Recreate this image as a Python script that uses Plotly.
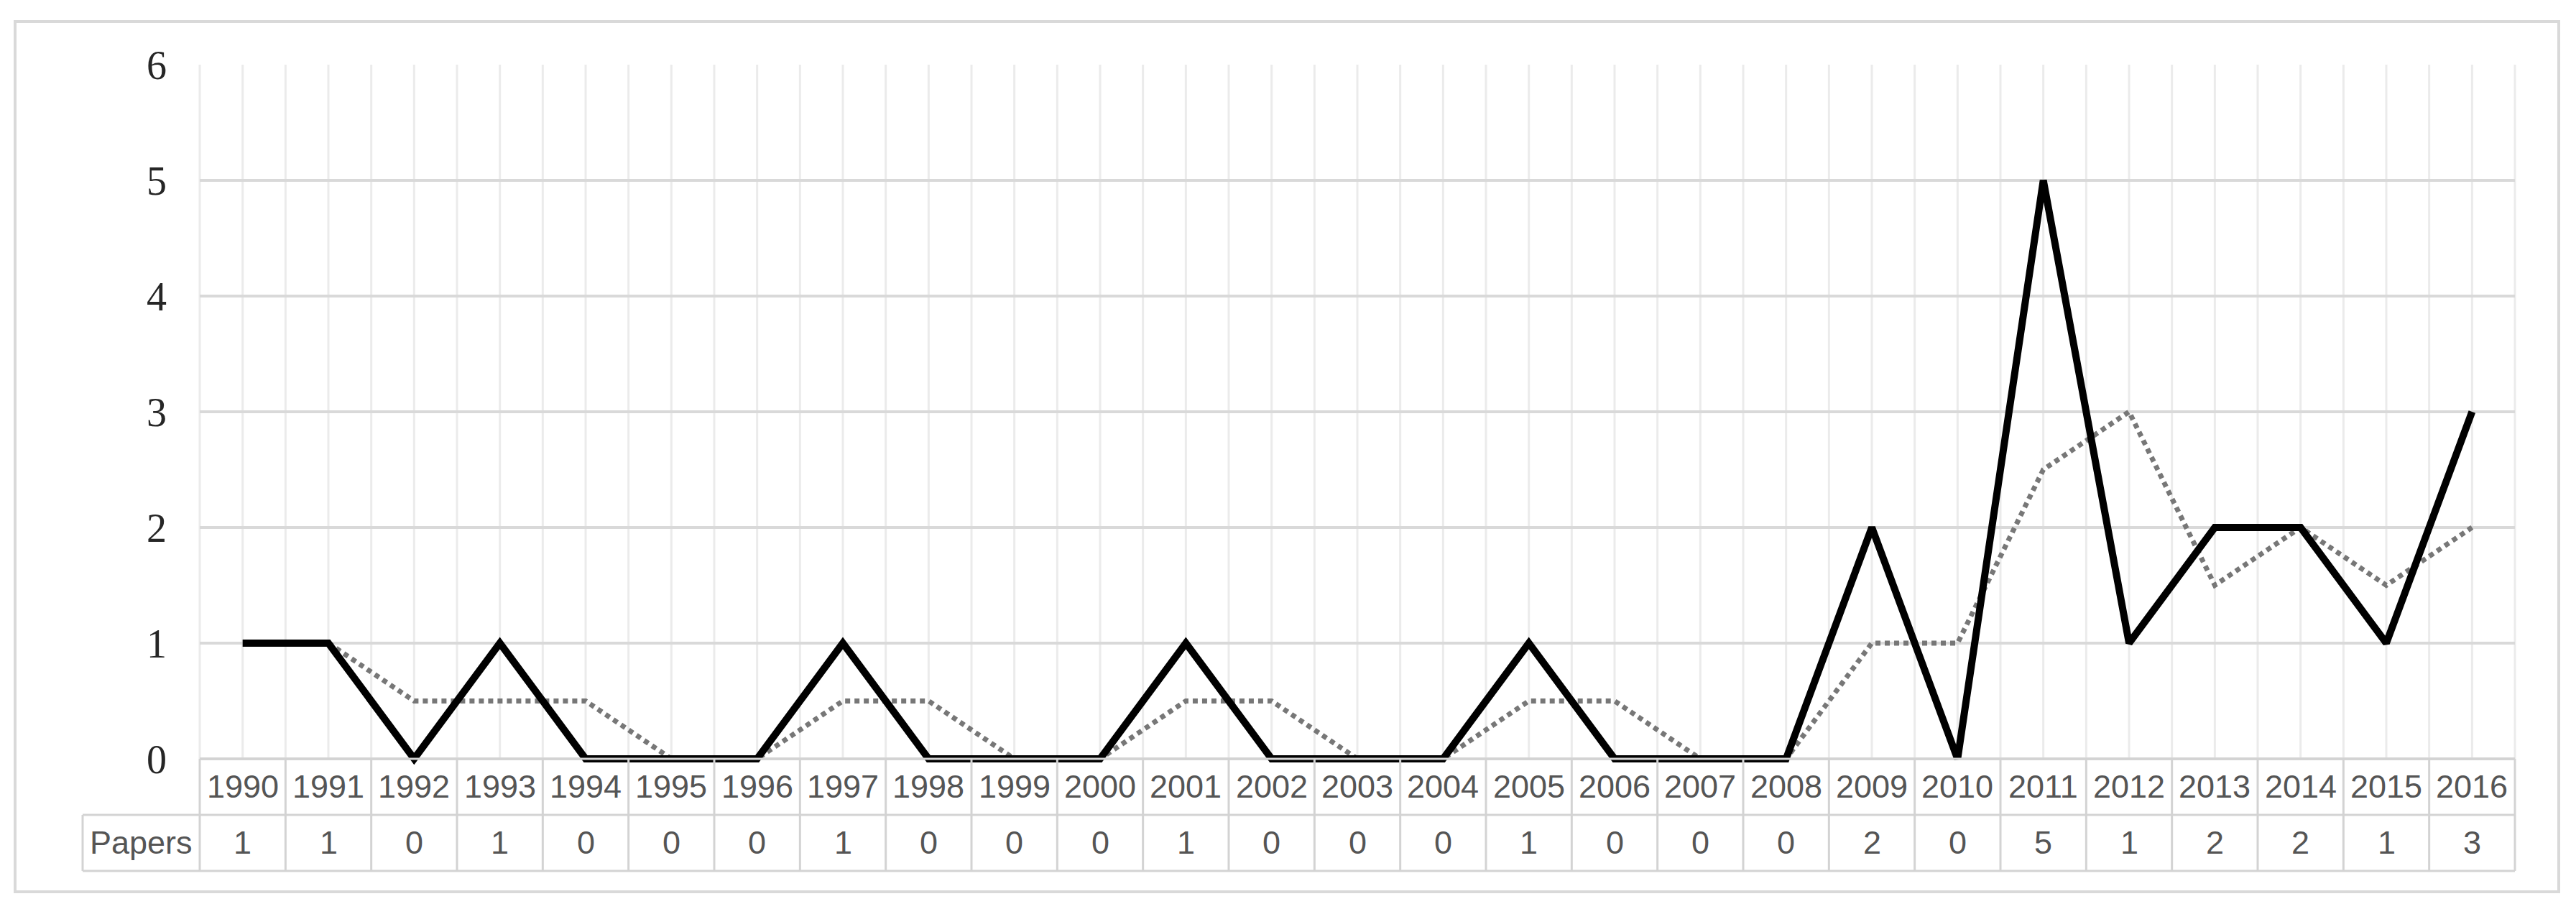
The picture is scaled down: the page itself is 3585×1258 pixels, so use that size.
import plotly.graph_objects as go

years = [str(y) for y in range(1990, 2017)]
papers = [1, 1, 0, 1, 0, 0, 0, 1, 0, 0, 0, 1, 0, 0, 0, 1, 0, 0, 0, 2, 0, 5, 1, 2, 2, 1, 3]
moving_avg = [None, 1, 0.5, 0.5, 0.5, 0, 0, 0.5, 0.5, 0, 0, 0.5, 0.5, 0, 0,
              0.5, 0.5, 0, 0, 1, 1, 2.5, 3, 1.5, 2, 1.5, 2]
y_ticks = [0, 1, 2, 3, 4, 5, 6]
row_label = "Papers"

W, H = 3585, 1258
ML, MR, MT, MB = 270, 93, 82, 202
PW, PH = W - ML - MR, H - MT - MB
XMIN, XMAX = -0.5, len(years) - 0.5
YMIN, YMAX = -0.05, 6

def xp_px(px):
    return (px - ML) / PW

def yp_px(px):
    return (H - MB - px) / PH

def xp(v):
    return (v - XMIN) / (XMAX - XMIN)

def yp(v):
    return (v - YMIN) / (YMAX - YMIN)

fig = go.Figure()
fig.add_trace(go.Scatter(
    x=years, y=moving_avg, mode="lines",
    line=dict(color="#777777", width=7, dash="7px,6px"),
    connectgaps=False, showlegend=False, cliponaxis=False,
))
fig.add_trace(go.Scatter(
    x=years, y=papers, mode="lines",
    line=dict(color="#000000", width=10),
    showlegend=False, cliponaxis=False,
))

shapes = []
# vertical gridlines at category centres and boundaries
n = len(years)
for k in range(2 * n + 1):
    v = XMIN + k * 0.5
    shapes.append(dict(type="line", xref="paper", yref="y", x0=xp(v), x1=xp(v),
                       y0=0, y1=YMAX, line=dict(color="#ebebeb", width=3), layer="below"))

# data table
row_h = 78 / PH
y_top = yp(0)
y_mid = y_top - row_h
y_bot = y_mid - row_h
tcol = "#d3d3d3"
tw = 3
label_left = xp_px(107)
shapes.append(dict(type="line", xref="paper", yref="paper", x0=0, x1=1, y0=y_top, y1=y_top,
                   line=dict(color=tcol, width=tw)))
shapes.append(dict(type="line", xref="paper", yref="paper", x0=label_left, x1=1, y0=y_mid, y1=y_mid,
                   line=dict(color=tcol, width=tw)))
shapes.append(dict(type="line", xref="paper", yref="paper", x0=label_left, x1=1, y0=y_bot, y1=y_bot,
                   line=dict(color=tcol, width=tw)))
shapes.append(dict(type="line", xref="paper", yref="paper", x0=label_left, x1=label_left, y0=y_mid, y1=y_bot,
                   line=dict(color=tcol, width=tw)))
for k in range(n + 1):
    v = XMIN + k
    shapes.append(dict(type="line", xref="paper", yref="paper", x0=xp(v), x1=xp(v), y0=y_top, y1=y_bot,
                       line=dict(color=tcol, width=tw)))

# outer chart border
shapes.append(dict(type="rect", xref="paper", yref="paper",
                   x0=xp_px(13), x1=xp_px(3553), y0=yp_px(1233), y1=yp_px(22),
                   line=dict(color="#d9d9d9", width=4), layer="below"))

annotations = []
tfont = dict(family="Liberation Sans, Arial, sans-serif", size=45, color="#555555")
for i, (yr, p) in enumerate(zip(years, papers)):
    annotations.append(dict(x=xp(i), y=(y_top + y_mid) / 2, xref="paper", yref="paper",
                            text=yr, showarrow=False, font=tfont, xanchor="center", yanchor="middle"))
    annotations.append(dict(x=xp(i), y=(y_mid + y_bot) / 2, xref="paper", yref="paper",
                            text=str(p), showarrow=False, font=tfont, xanchor="center", yanchor="middle"))
annotations.append(dict(x=(label_left + 0) / 2, y=(y_mid + y_bot) / 2, xref="paper", yref="paper",
                        text=row_label, showarrow=False, font=tfont, xanchor="center", yanchor="middle"))

fig.update_layout(
    width=W, height=H,
    margin=dict(l=ML, r=MR, t=MT, b=MB),
    paper_bgcolor="white", plot_bgcolor="white",
    shapes=shapes, annotations=annotations,
    xaxis=dict(type="category", range=[XMIN, XMAX], showgrid=False, showticklabels=False,
               zeroline=False, showline=False, ticks=""),
    yaxis=dict(range=[YMIN, YMAX], tickvals=y_ticks, ticktext=[str(t) for t in y_ticks],
               showgrid=True, gridcolor="#d9d9d9", gridwidth=4, zeroline=False, showline=False,
               ticks="", ticklabelstandoff=45,
               tickfont=dict(family="Liberation Serif, Times New Roman, serif", size=56, color="#262626")),
)

fig.write_html("out.html")
